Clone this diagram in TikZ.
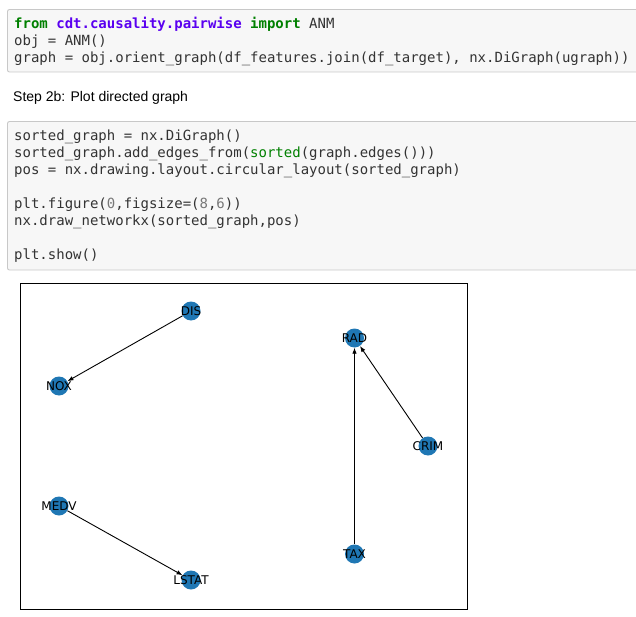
\documentclass[tikz,border=0pt]{standalone}
\usepackage{fontspec}
\setmainfont{Liberation Sans}
\setmonofont{DejaVu Sans Mono}
\newfontfamily\plotfont{DejaVu Sans}
\usetikzlibrary{arrows.meta}
\definecolor{cellbg}{HTML}{F7F7F7}
\definecolor{cellline}{HTML}{C8C8C8}
\definecolor{codetext}{HTML}{333333}
\definecolor{kwgreen}{HTML}{008000}
\definecolor{nsviolet}{HTML}{5A00F0}
\definecolor{numgrey}{HTML}{777777}
\definecolor{nodeblue}{HTML}{1F77B4}
\tikzset{
  codeline/.style={anchor=base west,inner sep=0pt,text=codetext,font=\ttfamily\fontsize{14}{17}\selectfont},
  vertex/.style={circle,fill=nodeblue,minimum size=19pt,inner sep=0pt,
    label={[font=\plotfont\fontsize{12}{14}\selectfont,text=black,inner sep=0pt]center:#1}},
  edge/.style={line width=0.9pt,-{Latex[length=6pt,width=4.5pt]}}
}
\begin{document}
\begin{tikzpicture}[x=1pt,y=-1pt]
  \useasboundingbox (0,0) rectangle (636,617);
  \begin{scope}
  \clip (0,0) rectangle (636,617);

    \draw[cellline,line width=0.9pt,fill=cellbg,rounded corners=2pt] (7.5,9.5) rectangle (660,72);
  \node[codeline] (c1) at (14,28.5) {\textbf{\textcolor{kwgreen}{from} \textcolor{nsviolet}{cdt.causality.pairwise} \textcolor{kwgreen}{import}} ANM};
  \node[codeline] (c2) at (14,45.5) {obj = ANM()};
  \node[codeline] (c3) at (14,62.5) {graph = obj.orient\_graph(df\_features.join(df\_target), nx.DiGraph(ugraph))};

  \node[anchor=base west,inner sep=0pt,font=\fontsize{14}{17}\selectfont] (step) at (13,102) {Step 2b: Plot directed graph};

    \draw[cellline,line width=0.9pt,fill=cellbg,rounded corners=2pt] (7.5,121.5) rectangle (660,270);
  \node[codeline] (d1) at (14,141) {sorted\_graph = nx.DiGraph()};
  \node[codeline] (d2) at (14,158) {sorted\_graph.add\_edges\_from(\textcolor{kwgreen}{sorted}(graph.edges()))};
  \node[codeline] (d3) at (14,175) {pos = nx.drawing.layout.circular\_layout(sorted\_graph)};
  \node[codeline] (d4) at (14,209) {plt.figure(\textcolor{numgrey}{0},figsize=(\textcolor{numgrey}{8},\textcolor{numgrey}{6}))};
  \node[codeline] (d5) at (14,226) {nx.draw\_networkx(sorted\_graph,pos)};
  \node[codeline] (d6) at (14,260) {plt.show()};
  \end{scope}

    \draw[line width=0.8pt] (20,283) rectangle (467,609);
  \node[vertex=DIS] (dis) at (191,311) {};
  \node[vertex=NOX] (nox) at (59,386) {};
  \node[vertex=RAD] (rad) at (354.5,338) {};
  \node[vertex=CRIM] (crim) at (428,446) {};
  \node[vertex=MEDV] (medv) at (59,506) {};
  \node[vertex=TAX] (tax) at (354.5,554) {};
  \node[vertex=LSTAT] (lstat) at (191,580) {};

  \draw[edge] (dis) -- (nox);
  \draw[edge] (crim) -- (rad);
  \draw[edge] (tax) -- (rad);
  \draw[edge] (medv) -- (lstat);

\end{tikzpicture}
\end{document}
